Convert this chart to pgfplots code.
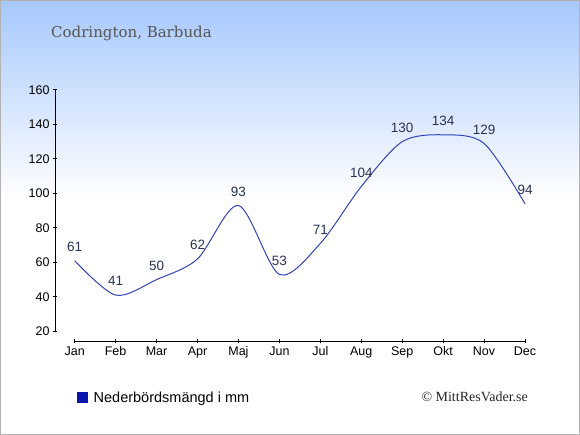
\documentclass[border=0pt]{standalone}
\usepackage{pgfplots}
\pgfplotsset{compat=1.18}
\usepackage{fontspec}
\setmainfont{Liberation Sans}
\newfontfamily\titlefont{DejaVu Serif}
\newfontfamily\copyfont{Liberation Serif}
\definecolor{bgtop}{RGB}{166,200,252}
\definecolor{linecol}{RGB}{51,68,187}
\definecolor{labcol}{RGB}{40,52,85}
\definecolor{legcol}{RGB}{10,20,170}
\definecolor{titlecol}{RGB}{85,85,85}
\begin{document}
\begin{tikzpicture}[x=1bp,y=1bp]
\fill[white] (0,0) rectangle (580,435);
\shade[top color=bgtop, bottom color=white] (0,235) rectangle (580,435);
\draw[black!30, line width=1bp] (0.5,0.5) rectangle (579.5,434.5);
\node[anchor=base west, text=titlecol, font=\titlefont\fontsize{15bp}{17bp}\selectfont, inner sep=0] at (51,397) {Codrington, Barbuda};
\node[anchor=base east, text=black!85, font=\copyfont\fontsize{14bp}{16bp}\selectfont, inner sep=0] at (528,33.3) {© MittResVader.se};
\begin{axis}[
  scale only axis,
  at={(55bp,93.7bp)}, anchor=south west,
  width=470bp, height=251.3bp,
  xmin=-0.481, xmax=11, ymin=14.2, ymax=160,
  axis x line*=bottom, axis y line*=left,
  axis line style={draw=none},
  clip=false,
  xtick={0,...,11},
  xticklabels={Jan,Feb,Mar,Apr,Maj,Jun,Jul,Aug,Sep,Okt,Nov,Dec},
  ytick={20,40,...,160},
  tick align=center,
  major tick length=4bp,
  tick style={black, line width=1bp},
  ticklabel style={font=\fontsize{12.5bp}{14bp}\selectfont, text=black},
  /pgf/number format/assume math mode=true,
  legend style={at={(0.0468,-0.2256)}, anchor=west, draw=none, fill=none, inner sep=0pt,
    font=\fontsize{14.5bp}{16bp}\selectfont, nodes={inner sep=3bp}},
  legend image code/.code={\fill[legcol] (0bp,-5bp) rectangle (10bp,5bp);},
  legend cell align=left,
]
\draw[black, line width=1bp] (axis cs:-0.481,20) -- (axis cs:-0.481,160);
\draw[black, line width=1bp] (axis cs:0,14.2) -- (axis cs:11,14.2);
\addplot[linecol, line width=1bp, smooth, tension=0.5,
  nodes near coords,
  nodes near coords style={anchor=center, yshift=14bp, text=labcol, font=\fontsize{13.5bp}{15bp}\selectfont}]
  coordinates {(0,61) (1,41) (2,50) (3,62) (4,93) (5,53) (6,71) (7,104) (8,130) (9,134) (10,129) (11,94)};
\addlegendentry{\hspace{2.5bp}Nederbördsmängd i mm}
\end{axis}
\end{tikzpicture}
\end{document}
